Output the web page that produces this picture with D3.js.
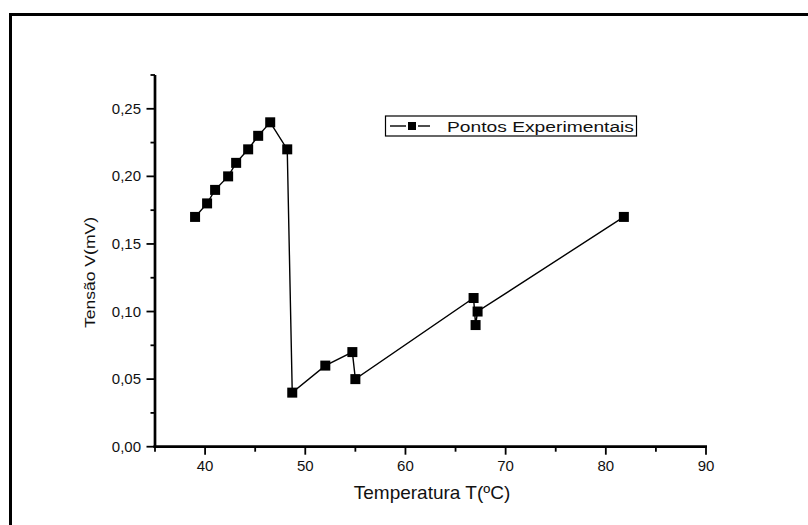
<!DOCTYPE html>
<html>
<head>
<meta charset="utf-8">
<script src="https://cdn.jsdelivr.net/npm/d3@7"></script>
<style>
  body { margin: 0; background: #fff; }
  svg { display: block; font-family: "Liberation Sans", Arial, sans-serif; }
</style>
</head>
<body>
<svg id="chart" width="808" height="525"></svg>
<script>
// temperature (ºC) and voltage (mV)
var temperatura = [39, 40.2, 41, 42.3, 43.1, 44.3, 45.3, 46.5, 48.2, 48.7, 52, 54.7, 55, 66.8, 67, 67.2, 81.8];
var tensao = [0.17, 0.18, 0.19, 0.20, 0.21, 0.22, 0.23, 0.24, 0.22, 0.04, 0.06, 0.07, 0.05, 0.11, 0.09, 0.10, 0.17];
var xTicks = [40, 50, 60, 70, 80, 90];
var yTicks = [0, 0.05, 0.10, 0.15, 0.20, 0.25];
var legendLabel = "Pontos Experimentais";

var pontos = temperatura.map(function (t, i) { return { x: t, y: tensao[i] }; });

var svg = d3.select('#chart');

// page frame (only top and left edges are inside the picture)
svg.append('rect')
    .attr('x', 10.5).attr('y', 14.5)
    .attr('width', 900).attr('height', 600)
    .attr('fill', 'none')
    .attr('stroke', '#000')
    .attr('stroke-width', 3);

var x = d3.scaleLinear().domain([35, 90]).range([155, 706]);
var y = d3.scaleLinear().domain([0, 0.275]).range([446.7, 75]);

// x axis
var gx = svg.append('g').attr('transform', 'translate(0,446.7)');
gx.append('line')
    .attr('x1', x(35) - 1.5).attr('x2', x(90) + 1)
    .attr('stroke', '#000').attr('stroke-width', 2.7);
gx.selectAll('line.minor')
    .data(d3.range(35, 91, 5).filter(function (d) { return d % 10 !== 0; }))
    .enter().append('line')
    .attr('class', 'minor')
    .attr('x1', d => x(d)).attr('x2', d => x(d))
    .attr('y1', 0).attr('y2', 5)
    .attr('stroke', '#000').attr('stroke-width', 1.8);
gx.selectAll('line.major')
    .data(xTicks)
    .enter().append('line')
    .attr('class', 'major')
    .attr('x1', d => x(d)).attr('x2', d => x(d))
    .attr('y1', 0).attr('y2', 8)
    .attr('stroke', '#000').attr('stroke-width', 1.8);
gx.selectAll('text')
    .data(xTicks)
    .enter().append('text')
    .attr('x', d => x(d))
    .attr('y', 24.5)
    .attr('text-anchor', 'middle')
    .attr('font-size', 15)
    .attr('fill', '#111')
    .text(d => d);

// y axis
var gy = svg.append('g').attr('transform', 'translate(155,0)');
gy.append('line')
    .attr('y1', y(0.275)).attr('y2', y(0) + 1.3)
    .attr('stroke', '#000').attr('stroke-width', 2.7);
gy.selectAll('line.minor')
    .data([0.025, 0.075, 0.125, 0.175, 0.225, 0.275])
    .enter().append('line')
    .attr('class', 'minor')
    .attr('y1', d => y(d)).attr('y2', d => y(d))
    .attr('x1', 0).attr('x2', -4.5)
    .attr('stroke', '#000').attr('stroke-width', 1.8);
gy.selectAll('line.major')
    .data(yTicks)
    .enter().append('line')
    .attr('class', 'major')
    .attr('y1', d => y(d)).attr('y2', d => y(d))
    .attr('x1', 0).attr('x2', -8.5)
    .attr('stroke', '#000').attr('stroke-width', 1.8);
gy.selectAll('text')
    .data(yTicks)
    .enter().append('text')
    .attr('x', -14)
    .attr('y', d => y(d) + 5)
    .attr('text-anchor', 'end')
    .attr('font-size', 15)
    .attr('fill', '#111')
    .text(d => d3.format('.2f')(d).replace('.', ','));

// axis titles
svg.append('text')
    .attr('x', 432).attr('y', 499)
    .attr('text-anchor', 'middle')
    .attr('font-size', 19)
    .attr('fill', '#111')
    .text('Temperatura T(ºC)');
svg.append('text')
    .attr('transform', 'translate(95,272.5) rotate(-90)')
    .attr('text-anchor', 'middle')
    .attr('font-size', 14.5)
    .attr('textLength', 111)
    .attr('lengthAdjust', 'spacingAndGlyphs')
    .attr('fill', '#111')
    .text('Tensão V(mV)');

// data line and markers
var line = d3.line().x(d => x(d.x)).y(d => y(d.y));
svg.append('path')
    .datum(pontos)
    .attr('d', line)
    .attr('fill', 'none')
    .attr('stroke', '#000')
    .attr('stroke-width', 1.4);

var s = 10;
svg.selectAll('rect.ponto')
    .data(pontos)
    .enter().append('rect')
    .attr('class', 'ponto')
    .attr('x', d => x(d.x) - s / 2)
    .attr('y', d => y(d.y) - s / 2)
    .attr('width', s).attr('height', s)
    .attr('fill', '#000');

// legend
var lg = svg.append('g');
lg.append('rect')
    .attr('x', 385.5).attr('y', 116)
    .attr('width', 251).attr('height', 20)
    .attr('fill', '#fff')
    .attr('stroke', '#000').attr('stroke-width', 1.2);
// line - marker - line, with small gaps around the marker
lg.append('line')
    .attr('x1', 390).attr('x2', 406)
    .attr('y1', 126).attr('y2', 126)
    .attr('stroke', '#000').attr('stroke-width', 1.4);
lg.append('line')
    .attr('x1', 418).attr('x2', 430)
    .attr('y1', 126).attr('y2', 126)
    .attr('stroke', '#000').attr('stroke-width', 1.4);
lg.append('rect')
    .attr('x', 408).attr('y', 122)
    .attr('width', 8).attr('height', 8)
    .attr('fill', '#000');
lg.append('text')
    .attr('x', 447).attr('y', 131.5)
    .attr('font-size', 15.5)
    .attr('textLength', 187)
    .attr('lengthAdjust', 'spacingAndGlyphs')
    .attr('fill', '#111')
    .text(legendLabel);
</script>
</body>
</html>
